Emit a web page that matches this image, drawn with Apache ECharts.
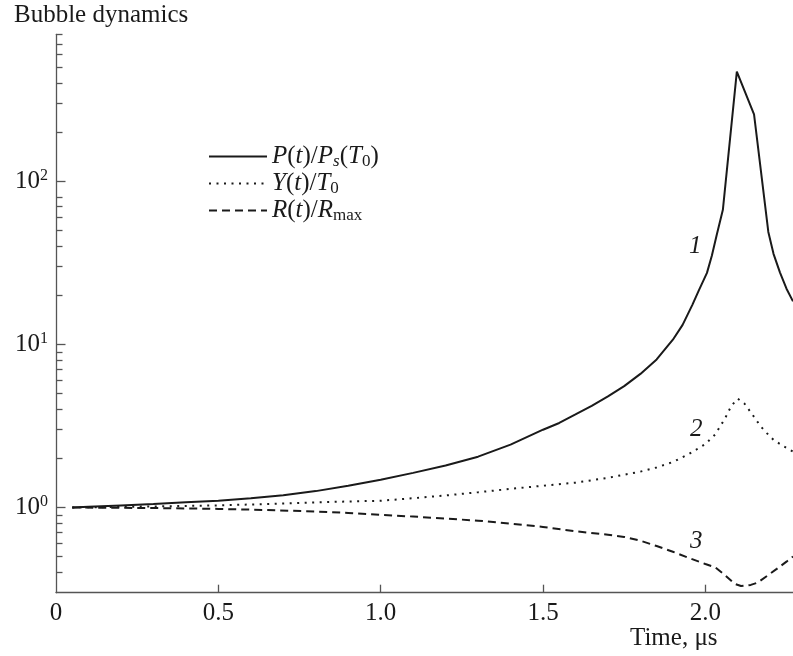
<!DOCTYPE html>
<html>
<head>
<meta charset="utf-8">
<script src="https://cdn.jsdelivr.net/npm/echarts@6/dist/echarts.min.js"></script>
<style>
html,body{margin:0;padding:0;background:#fff;}
#main{width:793px;height:656px;}
</style>
</head>
<body>
<div id="main"></div>
<script>
// ---- data ----
var chartTitle = 'Bubble dynamics';
var xAxisTitle = 'Time, \u03bcs';
var xTickValues = [0.5, 1.0, 1.5, 2.0];
var xLabelValues = [0, 0.5, 1.0, 1.5, 2.0];
var yMajorValues = [1, 10, 100];
var yMinorValues = [0.4, 0.5, 0.6, 0.7, 0.8, 0.9, 2, 3, 4, 5, 6, 7, 8, 9, 20, 30, 40, 50, 60, 70, 80, 200, 300, 400, 500, 600, 700, 800];

// curve 1: P(t)/Ps(T0)
var pTime  = [0.05, 0.1, 0.2, 0.3, 0.4, 0.5, 0.6, 0.7, 0.8, 0.9, 1.0, 1.1, 1.2, 1.3, 1.4, 1.5, 1.55, 1.6, 1.65, 1.7, 1.75, 1.8, 1.85, 1.9, 1.93, 1.96, 1.98, 2.005, 2.02, 2.035, 2.054, 2.097, 2.15, 2.194, 2.21, 2.23, 2.25, 2.27];
var pValue = [1.00, 1.01, 1.03, 1.05, 1.075, 1.10, 1.14, 1.19, 1.26, 1.36, 1.48, 1.63, 1.81, 2.05, 2.43, 3.0, 3.3, 3.72, 4.2, 4.8, 5.55, 6.6, 8.1, 10.7, 13.2, 17.5, 21.5, 27.5, 35, 47, 67, 472, 258, 49, 36, 27.6, 22, 18.4];

// curve 2: Y(t)/T0
var yTime  = [0.05, 0.2, 0.35, 0.5, 0.65, 0.8, 0.9, 1.0, 1.1, 1.2, 1.3, 1.4, 1.5, 1.6, 1.7, 1.8, 1.85, 1.9, 1.95, 2.0, 2.03, 2.06, 2.08, 2.1, 2.12, 2.15, 2.17, 2.19, 2.21, 2.24, 2.27];
var yValue = [1.0, 1.008, 1.018, 1.03, 1.05, 1.075, 1.088, 1.10, 1.14, 1.185, 1.24, 1.30, 1.36, 1.42, 1.52, 1.66, 1.76, 1.90, 2.13, 2.45, 2.8, 3.5, 4.2, 4.65, 4.35, 3.6, 3.15, 2.85, 2.6, 2.38, 2.2];

// curve 3: R(t)/Rmax
var rTime  = [0.05, 0.2, 0.35, 0.5, 0.65, 0.8, 0.9, 1.0, 1.1, 1.2, 1.3, 1.4, 1.5, 1.6, 1.7, 1.75, 1.8, 1.85, 1.9, 1.95, 2.0, 2.03, 2.06, 2.09, 2.11, 2.14, 2.16, 2.19, 2.22, 2.25, 2.27];
var rValue = [1.0, 0.995, 0.99, 0.98, 0.965, 0.945, 0.925, 0.90, 0.88, 0.855, 0.83, 0.795, 0.76, 0.715, 0.68, 0.66, 0.625, 0.58, 0.535, 0.49, 0.45, 0.43, 0.385, 0.34, 0.33, 0.335, 0.345, 0.38, 0.42, 0.465, 0.50];

var seriesNames = ['P', 'Y', 'R'];
var curveLabels = [{text: '1', t: 1.969, v: 40}, {text: '2', t: 1.972, v: 3.0}, {text: '3', t: 1.972, v: 0.618}];

function zip(a, b) { return a.map(function (x, i) { return [x, b[i]]; }); }

var serif = "'Liberation Serif', 'DejaVu Serif', serif";
var ink = '#1a1a1a';
var axisCol = '#555';

var legendRich = {
  i: {fontFamily: serif, fontStyle: 'italic', fontSize: 25, color: ink, lineHeight: 24},
  n: {fontFamily: serif, fontSize: 25, color: ink, lineHeight: 24},
  si: {fontFamily: serif, fontStyle: 'italic', fontSize: 17, color: ink, lineHeight: 14, padding: [10, 0, 0, 0]},
  sn: {fontFamily: serif, fontSize: 17, color: ink, lineHeight: 14, padding: [10, 0, 0, 0]}
};
var legendText = {
  P: '{i|P}{n|(}{i|t}{n|)/}{i|P}{si|s}{n|(}{i|T}{sn|0}{n|)}',
  Y: '{i|Y}{n|(}{i|t}{n|)/}{i|T}{sn|0}',
  R: '{i|R}{n|(}{i|t}{n|)/}{i|R}{sn|max}'
};

var chart = echarts.init(document.getElementById('main'), null, {renderer: 'canvas'});

function markFor(idx) {
  var c = curveLabels[idx];
  return {
    symbol: 'circle', symbolSize: 0, silent: true,
    label: {show: true, position: 'inside', formatter: c.text, fontFamily: serif, fontStyle: 'italic', fontSize: 25, color: ink},
    data: [{coord: [c.t, c.v]}]
  };
}

var option = {
  animation: false,
  backgroundColor: '#fff',
  grid: {left: 56, right: 0, top: 34.3, bottom: 63.3, containLabel: false},
  graphic: [
    {type: 'text', left: 14, top: 3, style: {text: chartTitle, font: '25px ' + serif, fill: ink}},
    {type: 'text', left: 630, top: 626, style: {text: xAxisTitle, font: '25px ' + serif, fill: ink}}
  ],
  legend: {
    orient: 'vertical', left: 208, top: 143, padding: 0,
    itemWidth: 58, itemHeight: 14, itemGap: 0,
    selectedMode: false,
    itemStyle: {opacity: 0, borderWidth: 0},
    data: seriesNames,
    formatter: function (name) { return legendText[name]; },
    textStyle: {rich: legendRich, padding: [0, 0, 0, 0]}
  },
  xAxis: {
    type: 'value', min: 0, max: 2.27,
    axisLine: {show: true, lineStyle: {color: axisCol, width: 1.3}},
    splitLine: {show: false},
    axisTick: {show: true, inside: true, length: 8, lineStyle: {color: axisCol, width: 1.3}, customValues: xTickValues},
    axisLabel: {
      customValues: xLabelValues, margin: 8,
      formatter: function (v) { return v === 0 ? '0' : v.toFixed(1); },
      fontFamily: serif, fontSize: 25, color: ink
    }
  },
  yAxis: [
    {
      type: 'log', min: 0.3, max: 800, logBase: 10,
      axisLine: {show: true, lineStyle: {color: axisCol, width: 1.3}},
      splitLine: {show: false},
      axisTick: {show: true, inside: true, length: 9.5, lineStyle: {color: axisCol, width: 1.3}, customValues: yMajorValues},
      axisLabel: {
        customValues: yMajorValues, margin: 8,
        formatter: function (v) { return '{b|10}{s|' + Math.round(Math.log10(v)) + '}'; },
        rich: {
          b: {fontFamily: serif, fontSize: 25, color: ink},
          s: {fontFamily: serif, fontSize: 16, color: ink, padding: [0, 0, 12, 0]}
        }
      }
    },
    {
      type: 'log', min: 0.3, max: 800, logBase: 10, position: 'left',
      axisLine: {show: false},
      splitLine: {show: false},
      axisTick: {show: true, inside: true, length: 6.5, lineStyle: {color: axisCol, width: 1.3}, customValues: yMinorValues},
      axisLabel: {show: false}
    }
  ],
  series: [
    {
      name: 'P', type: 'line', data: zip(pTime, pValue), yAxisIndex: 0,
      showSymbol: false, symbol: 'none', smooth: false, clip: true,
      lineStyle: {color: ink, width: 2, type: 'solid'}, itemStyle: {color: ink},
      markPoint: markFor(0)
    },
    {
      name: 'Y', type: 'line', data: zip(yTime, yValue), yAxisIndex: 0,
      showSymbol: false, symbol: 'none', smooth: false, clip: true,
      lineStyle: {color: ink, width: 2, type: [2, 5.5]}, itemStyle: {color: ink},
      markPoint: markFor(1)
    },
    {
      name: 'R', type: 'line', data: zip(rTime, rValue), yAxisIndex: 0,
      showSymbol: false, symbol: 'none', smooth: false, clip: true,
      lineStyle: {color: ink, width: 2, type: [8, 5]}, itemStyle: {color: ink},
      markPoint: markFor(2)
    }
  ]
};
chart.setOption(option);
</script>
</body>
</html>
